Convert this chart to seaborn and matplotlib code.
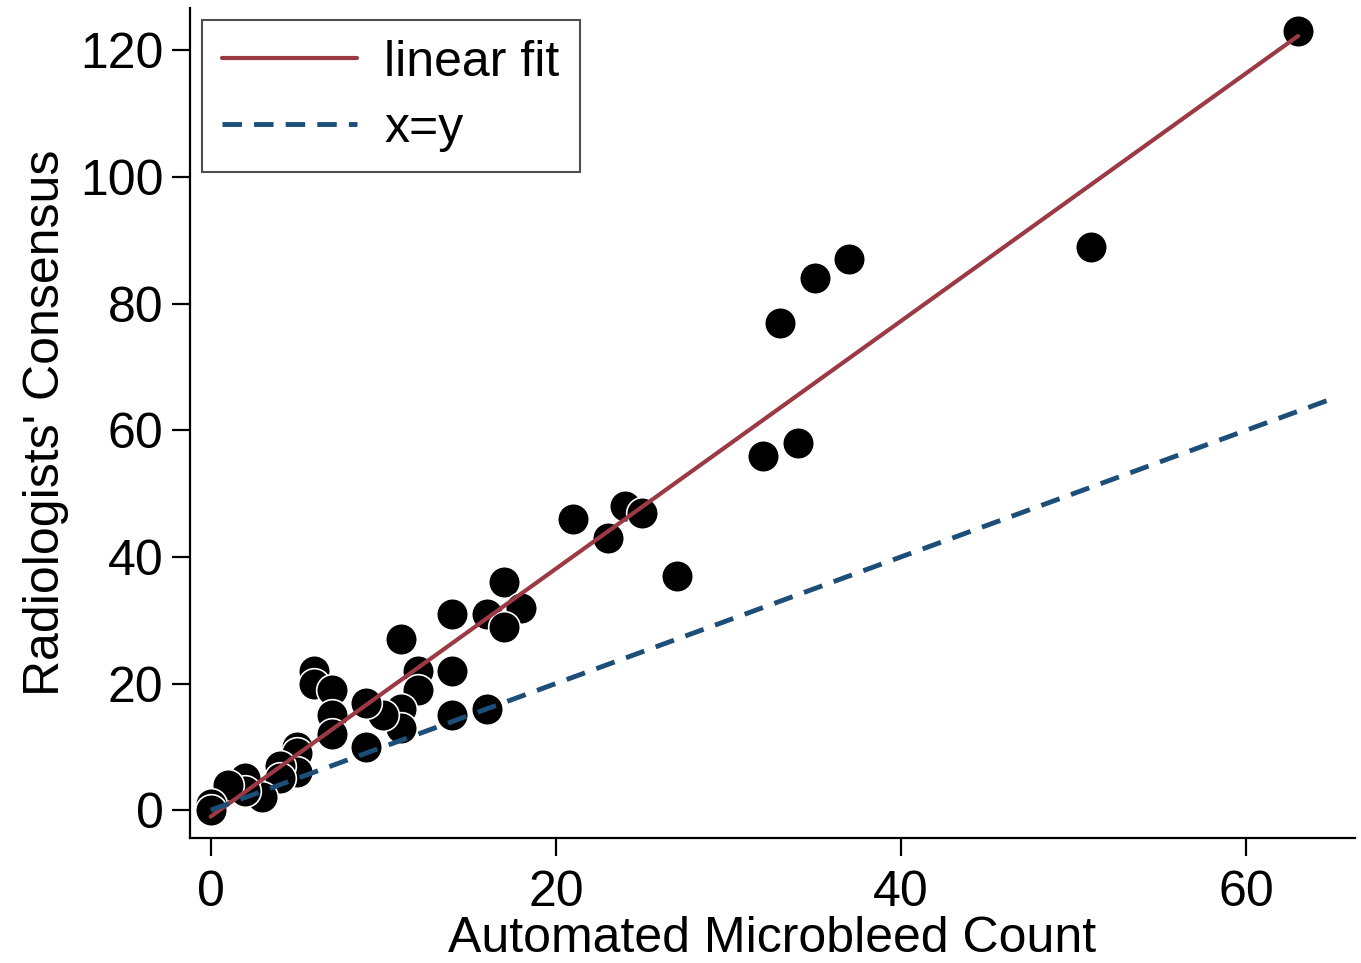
import numpy as np
import pandas as pd
import matplotlib
matplotlib.use('Agg')
import matplotlib.pyplot as plt
import seaborn as sns

# Automated count (x) vs radiologists' consensus (y)
auto_count = [63, 51, 37, 35, 33, 34, 32, 27, 24, 25, 23, 21,
              17, 18, 16, 17, 14, 14, 14, 16, 11, 12, 12, 11, 11, 10,
              9, 9, 6, 6, 7, 7, 7, 5, 5, 5, 4, 4, 3, 2, 2, 1, 0, 0]
consensus = [123, 89, 87, 84, 77, 58, 56, 37, 48, 47, 43, 46,
             36, 32, 31, 29, 31, 22, 15, 16, 27, 22, 19, 16, 13, 15,
             17, 10, 22, 20, 19, 15, 12, 10, 9, 6, 7, 5, 2, 5, 3, 4, 1, 0]
identity_x = [0, 65]

df = pd.DataFrame({'auto': auto_count, 'cons': consensus})

sns.set_style('ticks')
plt.rcParams['font.family'] = ['Liberation Sans', 'DejaVu Sans']
for k in ['text.color', 'axes.labelcolor', 'xtick.color', 'ytick.color', 'axes.edgecolor']:
    plt.rcParams[k] = 'black'

fig = plt.figure(figsize=(13.61, 9.63), dpi=100)
ax = fig.add_axes([0.1396, 0.1298, 0.856, 0.862])

red = '#9B3A43'
blue = '#1C4E78'

sns.scatterplot(data=df, x='auto', y='cons', ax=ax, s=520, color='black',
                edgecolor='white', linewidth=1.2, zorder=2, legend=False)
sns.regplot(data=df, x='auto', y='cons', ax=ax, scatter=False, ci=None,
            color=red, line_kws={'lw': 3, 'zorder': 3}, label='linear fit')
ax.plot(identity_x, identity_x, color=blue, lw=3.5, ls=(0, (4, 2.5)),
        zorder=3, label='x=y')

ax.set_xlim(-1.2, 66.3)
ax.set_ylim(-4.4, 126.7)
ax.set_xticks([0, 20, 40, 60])
ax.set_yticks([0, 20, 40, 60, 80, 100, 120])
ax.tick_params(labelsize=36, length=13, width=1.6, color='black')
ax.tick_params(axis='x', pad=10)
ax.tick_params(axis='y', pad=6)
for s in ['left', 'bottom']:
    ax.spines[s].set_linewidth(1.6)
sns.despine(ax=ax)

ax.set_xlabel('Automated Microbleed Count', fontsize=36, labelpad=0)
ax.set_ylabel("Radiologists' Consensus", fontsize=36, labelpad=8)

leg = ax.legend(loc='upper left', fontsize=36, frameon=True, fancybox=False,
                edgecolor='#222222', handlelength=2.7, borderpad=0.4,
                labelspacing=0.4, handletextpad=0.55, borderaxespad=0,
                bbox_to_anchor=(0.0103, 0.9855))
leg.get_frame().set_linewidth(1.5)

fig.savefig('out.png', dpi=100)
